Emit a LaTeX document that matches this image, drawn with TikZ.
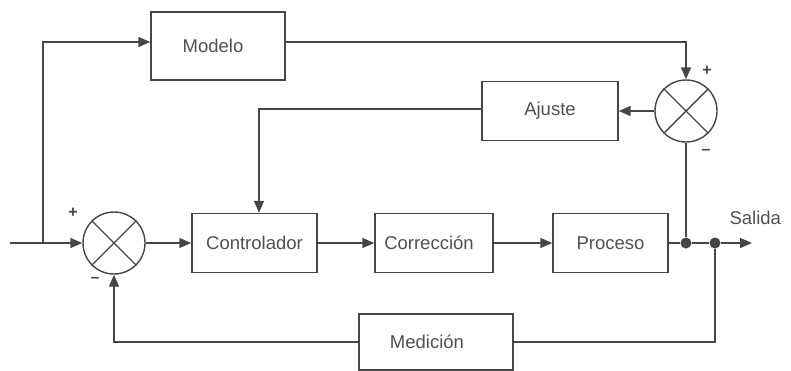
\documentclass[tikz,border=0pt]{standalone}
\usepackage{fontspec}
\setmainfont{Liberation Sans}
\usetikzlibrary{arrows.meta}
\definecolor{ink}{HTML}{464646}
\definecolor{txt}{HTML}{505050}
\begin{document}
\begin{tikzpicture}[x=1pt,y=-1pt,
  blk/.style={draw=ink, line width=1.4pt, rectangle, inner sep=0pt, text=txt,
    font=\fontsize{18.5}{20}\selectfont},
  sumj/.style={draw=ink, line width=1.4pt, circle, minimum size=62pt, inner sep=0pt},
  arr/.style={draw=ink, line width=1.4pt, -{Triangle[length=12pt,width=10pt]}},
  ln/.style={draw=ink, line width=1.4pt},
  dotj/.style={circle, fill=ink, minimum size=11pt, inner sep=0pt},
  sgn/.style={text=ink, font=\fontsize{16}{16}\selectfont\bfseries, inner sep=0pt}]
\useasboundingbox (0,0) rectangle (791,370);

% blocks (a trailing kern nudges some labels left of centre)
\node[blk, minimum width=134pt, minimum height=68pt] (modelo) at (218,46) {Modelo\kern10pt\relax};
\node[blk, minimum width=136pt, minimum height=59pt] (ajuste) at (550,111) {Ajuste};
\node[blk, minimum width=125pt, minimum height=59pt] (ctrl) at (254.5,243) {Controlador};
\node[blk, minimum width=118pt, minimum height=59pt] (corr) at (434,243) {Corrección\kern10pt\relax};
\node[blk, minimum width=115pt, minimum height=59pt] (proc) at (610.5,243) {Proceso};
\node[blk, minimum width=154pt, minimum height=56pt] (med) at (436,342) {Medición\kern18pt\relax};

% summing junctions
\node[sumj] (s1) at (114,243) {};
\draw[ln] (s1.north west) -- (s1.south east) (s1.north east) -- (s1.south west);
\node[sumj] (s2) at (686,111) {};
\draw[ln] (s2.north west) -- (s2.south east) (s2.north east) -- (s2.south west);

% signs
\node[sgn] at (73,213) {+};
\node[sgn] at (95,280) {\textendash};
\node[sgn] at (707,71) {+};
\node[sgn] at (706,152) {\textendash};

% branch points
\coordinate (in) at (10,243);
\coordinate (br) at (43,243);
\node[dotj] (d1) at (686,243) {};
\node[dotj] (d2) at (715,243) {};
\coordinate (out) at (752,243);
\node[text=txt, font=\fontsize{18.5}{20}\selectfont, anchor=west] (sal) at (726,218) {Salida};

% forward path
\draw[ln] (in) -- (br);
\draw[arr] (br) -- (s1.west);
\draw[arr] (br) |- (modelo.west |- 0,42);
\draw[arr] (s1.east) -- (ctrl.west);
\draw[arr] (ctrl.east) -- (corr.west);
\draw[arr] (corr.east) -- (proc.west);
\draw[ln] (proc.east) -- (d1) -- (d2);
\draw[arr] (d2) -- (out);

% model loop
\draw[arr] (modelo.east |- 0,42) -| (s2.north);
\draw[ln] (s2.south) -- (d1);
\draw[arr] (s2.west) -- (ajuste.east);
\draw[arr] (ajuste.west |- 0,109) -| (ctrl.north -| 259,0);

% measurement loop
\draw[ln] (d2) |- (med.east);
\draw[arr] (med.west) -| (s1.south);
\end{tikzpicture}
\end{document}
